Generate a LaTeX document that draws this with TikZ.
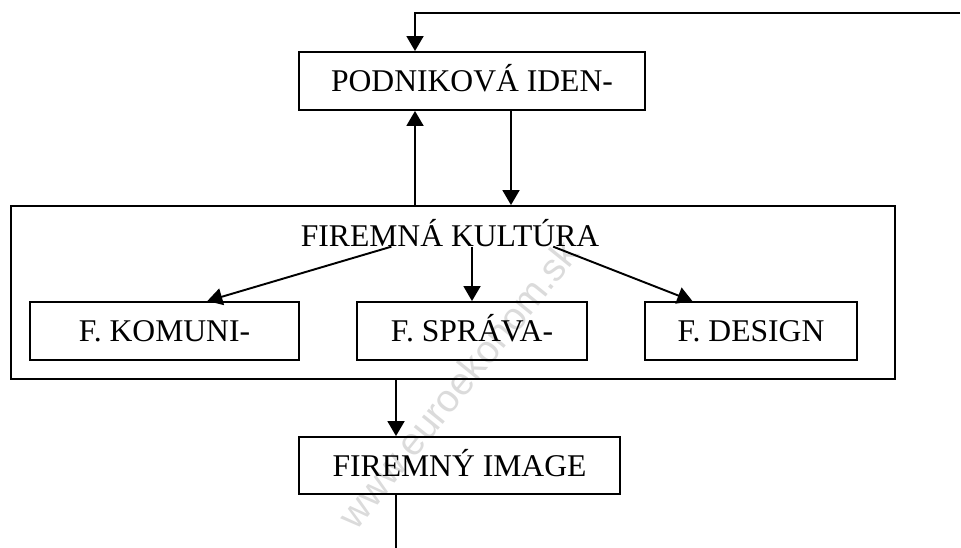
\documentclass[tikz,border=0pt]{standalone}
\usepackage{fontspec}
\setmainfont{Liberation Serif}
\newfontfamily\markfont{Liberation Sans}
\usetikzlibrary{arrows.meta,calc}

\begin{document}
\begin{tikzpicture}[x=0.02cm,y=-0.02cm,
        txt/.style={font=\fontsize{18}{21}\selectfont},
        box/.style={txt,draw,line width=1.1pt,inner sep=0pt,minimum height=1.16cm,text height=0.43cm,text depth=0pt},
        link/.style={line width=1.1pt,-{Triangle[length=0.3cm,width=0.34cm]}}]
        \useasboundingbox (0,0) rectangle (961,548);
        % watermark
        \node[rotate=51,text=black!14,font=\markfont\fontsize{22}{22}\selectfont] (mark) at (458,384) {www.euroekonom.sk};
        % boxes
        \node[box,minimum width=17.68cm,minimum height=3.46cm] (firma) at (453,292.5) {};
        \node[txt,inner sep=0pt,anchor=base] (kultura) at (450,246) {FIREMNÁ KULTÚRA};
        \node[box,minimum width=6.92cm] (podnik) at (472,81) {PODNIKOVÁ IDEN-};
        \node[box,minimum width=5.38cm] (komuni) at (164.5,331) {F. KOMUNI-};
        \node[box,minimum width=4.6cm] (sprava) at (472,331) {F. SPRÁVA-};
        \node[box,minimum width=4.24cm] (design) at (751,331) {F. DESIGN};
        \node[box,minimum width=6.42cm,minimum height=1.14cm] (image) at (459.5,465.5) {FIREMNÝ IMAGE};
        % free ends and x positions of the connectors
        \coordinate (vstup) at (960,13);
        \coordinate (vystup) at (396,548);
        \coordinate (up) at (415,0);
        \coordinate (dn) at (511,0);
        \coordinate (von) at (396,0);
        % connectors
        \draw[link] (vstup) -| (up |- podnik.north);
        \draw[link] (up |- firma.north) -- (up |- podnik.south);
        \draw[link] (dn |- podnik.south) -- (dn |- firma.north);
        \draw[link] ($(kultura.south west)!0.304!(kultura.south east)$) -- ($(komuni.north west)!0.658!(komuni.north east)$);
        \draw[link] (kultura.south -| sprava.north) -- (sprava.north);
        \draw[link] ($(kultura.south west)!0.845!(kultura.south east)$) -- ($(design.north west)!0.226!(design.north east)$);
        \draw[link] (von |- firma.south) -- (von |- image.north);
        \draw[line width=1.1pt] (von |- image.south) -- (vystup);
\end{tikzpicture}
\end{document}
